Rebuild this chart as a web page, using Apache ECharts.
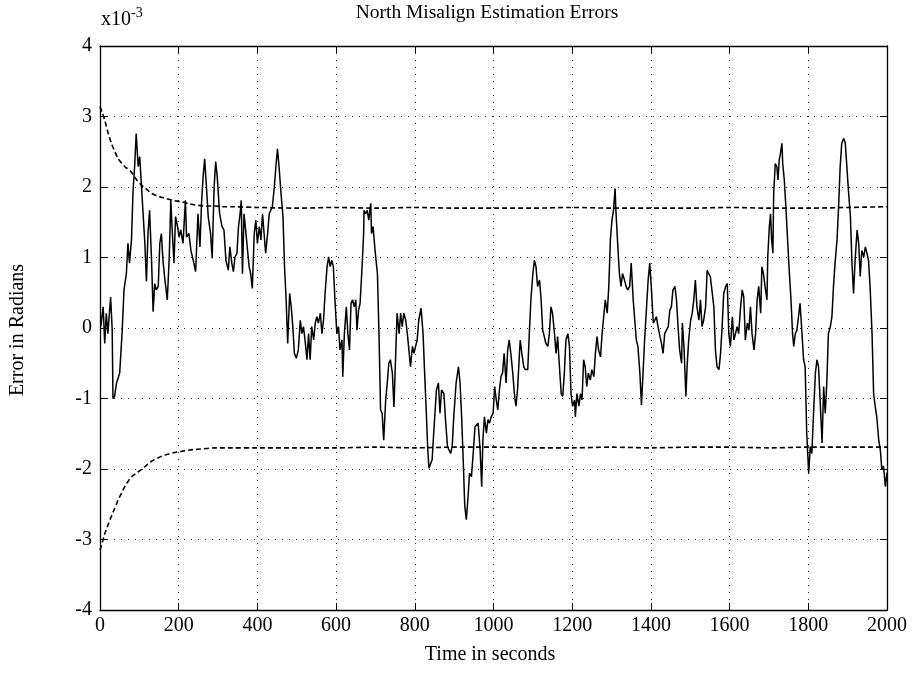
<!DOCTYPE html>
<html>
<head>
<meta charset="utf-8">
<script src="https://cdn.jsdelivr.net/npm/echarts@6/dist/echarts.min.js"></script>
<style>html,body{margin:0;padding:0;background:#fff}#c{width:912px;height:689px}</style>
</head>
<body>
<div id="c"></div>
<script>
// values in units of 1e-3 rad
var xTicks = [0, 200, 400, 600, 800, 1000, 1200, 1400, 1600, 1800, 2000];
var yTicks = [-4, -3, -2, -1, 0, 1, 2, 3, 4];

var errTime = [
2,8,12,16,20,27,31,33,37,42,50,56,61,67,71,75,80,84,88,92,97,101,105,109,114,118,122,126,131,135,139,143,148,152,156,160,165,171,176,180,183,188,192,197,201,205,211,217,220,226,231,237,243,249,254,258,262,266,270,275,281,285,290,294,298,304,310,315,320,326,330,
335,339,343,348,352,356,359,362,366,371,375,379,383,387,392,396,400,405,409,413,417,421,426,430,434,438,443,447,451,455,460,465,469,473,477,482,486,490,494,499,504,509,513,517,521,526,530,534,538,543,547,551,555,560,564,568,572,577,581,585,589,593,598,602,606,610,615,617,621,626,630,634,638,642,646,650,653,657,661,666,670,
671,675,679,683,688,690,694,699,705,709,713,717,721,726,730,734,738,743,747,751,755,760,764,768,772,777,781,785,789,794,798,802,806,810,816,821,825,829,833,836,840,844,849,855,860,864,868,874,878,883,887,891,895,899,905,911,915,919,923,927,931,936,939,944,949,953,957,961,966,970,973,977,982,986,990,994,999,1003,1007,
1011,1015,1019,1023,1027,1032,1036,1040,1044,1049,1053,1057,1061,1066,1068,1072,1077,1081,1087,1091,1095,1100,1104,1108,1112,1117,1121,1125,1129,1133,1138,1142,1146,1150,1155,1159,1163,1167,1172,1176,1180,1184,1189,1193,1197,1201,1206,1208,1212,1217,1221,1225,1229,1233,1237,1241,1246,1250,1255,1259,1263,1267,1272,1276,1280,1284,1289,1293,1297,1301,1305,1309,1311,1316,1320,1324,1328,1333,1337,1341,
1346,1350,1355,1359,1363,1367,1372,1376,1380,1384,1389,1393,1397,1401,1406,1410,1414,1418,1423,1427,1431,1435,1439,1444,1448,1452,1456,1461,1465,1469,1473,1478,1480,1484,1489,1492,1496,1501,1505,1509,1513,1517,1522,1526,1530,1534,1539,1543,1547,1551,1556,1560,1564,1568,1573,1577,1581,1585,1590,1594,1598,1602,1607,1611,1615,1619,1623,1628,1632,1636,1640,1645,1649,1653,1657,1662,1666,1670,1674,1679,
1682,1686,1690,1695,1697,1701,1704,1707,1710,1712,1716,1720,1723,1726,1729,1733,1735,1739,1743,1747,1751,1756,1760,1763,1767,1771,1775,1779,1784,1788,1792,1796,1801,1805,1809,1813,1818,1822,1826,1830,1835,1839,1843,1847,1851,1856,1860,1864,1868,1873,1877,1881,1885,1890,1894,1898,1902,1907,1911,1915,1919,1924,1928,1932,1936,1941,1945,1949,1953,1957,1962,1966,1970,1974,1979,1983,1987,1991,1996,2000
];
var errValue = [
0.02,0.30,-0.22,0.21,-0.08,0.44,-0.03,-1.00,-0.97,-0.78,-0.64,-0.08,0.54,0.77,1.20,0.92,1.25,1.95,2.29,2.76,2.29,2.43,2.05,1.67,1.20,0.66,1.34,1.67,0.96,0.23,0.63,0.54,0.59,1.20,1.34,0.96,0.68,0.40,1.01,1.81,1.44,0.92,1.58,1.44,1.29,1.39,1.20,1.81,1.29,1.34,1.10,0.96,0.80,1.62,1.15,1.77,2.14,2.40,2.05,1.58,1.34,0.99,2.00,2.36,2.14,1.62,1.44,1.39,0.96,0.82,1.15,
0.92,0.80,1.01,1.06,1.44,1.62,1.81,0.77,1.62,1.34,1.10,0.87,0.77,0.56,1.34,1.53,1.20,1.44,1.25,1.62,1.34,1.06,1.34,1.62,1.67,1.72,2.00,2.29,2.54,2.29,1.91,1.58,0.87,0.40,-0.22,0.49,0.30,0.02,-0.36,-0.43,-0.31,0.11,-0.08,0.02,-0.17,-0.45,-0.08,-0.45,0.02,-0.17,0.07,0.16,0.07,0.21,-0.08,0.11,0.49,0.87,1.01,0.87,0.96,0.87,0.30,-0.08,0.02,-0.31,-0.17,-0.69,-0.08,0.30,-0.08,-0.31,0.35,0.40,0.30,0.40,-0.03,0.25,0.35,0.87,1.34,
1.67,1.62,1.67,1.53,1.77,1.34,1.44,1.10,0.77,-0.08,-1.16,-1.21,-1.59,-1.02,-0.78,-0.50,-0.45,-0.64,-1.12,-0.45,0.21,-0.08,0.21,0.02,0.21,0.11,-0.08,-0.31,-0.55,-0.26,-0.36,-0.26,-0.17,0.11,0.28,-0.08,-0.64,-1.16,-1.73,-1.99,-1.99,-1.87,-1.40,-0.88,-0.78,-1.21,-0.88,-0.93,-1.30,-1.68,-1.68,-1.78,-1.68,-1.26,-0.78,-0.55,-0.78,-1.26,-1.87,-2.53,-2.72,-2.34,-2.06,-2.11,-1.73,-1.40,-1.40,-1.35,-1.73,-2.25,-1.59,-1.26,-1.49,-1.30,-1.35,-1.26,-1.21,-0.83,-1.02,
-1.16,-0.88,-0.69,-0.64,-0.36,-0.78,-0.31,-0.17,-0.36,-0.64,-0.93,-1.11,-0.88,-0.36,-0.17,-0.36,-0.55,-0.59,-0.59,-0.08,0.40,0.77,0.96,0.87,0.59,0.68,0.40,-0.03,-0.12,-0.22,-0.26,-0.08,0.30,0.21,-0.08,-0.36,-0.12,-0.50,-0.93,-0.97,-0.64,-0.17,-0.08,-0.26,-0.93,-1.11,-1.02,-1.26,-0.93,-1.11,-0.93,-1.02,-0.45,-0.55,-0.83,-0.64,-0.74,-0.59,-0.69,-0.36,-0.12,-0.31,-0.41,-0.08,0.16,0.40,0.21,0.59,1.25,1.53,1.67,1.98,1.67,1.15,0.77,0.59,0.77,0.68,0.59,0.54,
0.59,0.92,0.40,0.11,-0.17,-0.26,-0.64,-1.09,-0.64,-0.17,0.30,0.68,0.92,0.59,0.07,0.11,0.16,0.02,-0.12,-0.22,-0.36,-0.08,-0.08,0.02,0.25,0.30,0.54,0.59,0.40,0.02,-0.31,-0.50,0.07,-0.26,-0.97,-0.55,-0.17,0.11,0.21,0.40,0.68,0.30,0.11,0.40,0.02,0.11,0.30,0.82,0.77,0.73,0.73,0.30,-0.31,-0.55,-0.59,-0.36,0.02,0.49,0.59,0.63,-0.08,-0.26,0.16,-0.17,-0.08,0.02,-0.08,0.30,0.54,0.44,-0.17,0.07,-0.03,0.30,-0.08,-0.31,-0.08,0.40,0.59,0.21,
0.87,0.77,0.59,0.40,1.01,1.44,1.62,1.25,1.06,1.91,2.33,2.29,2.10,2.38,2.47,2.62,2.33,2.10,1.72,1.29,0.87,0.40,-0.08,-0.26,-0.08,-0.03,0.16,0.35,-0.08,-0.45,-0.55,-1.49,-2.06,-1.68,-1.78,-1.26,-0.64,-0.45,-0.55,-1.02,-1.63,-0.83,-1.21,-0.78,-0.08,0.02,0.16,0.59,0.92,1.25,1.72,2.29,2.62,2.69,2.62,2.29,1.95,1.58,0.92,0.49,0.96,1.39,1.20,0.73,1.10,1.01,1.15,1.06,0.96,0.59,-0.08,-0.93,-1.11,-1.26,-1.59,-1.73,-2.01,-1.96,-2.25,-2.05
];

var boundTime = [0, 6, 12, 20, 29, 38, 46, 55, 63, 72, 80, 92, 105, 118, 131, 148, 165, 186, 207, 228, 249, 270, 292, 313, 334, 400, 500, 600, 700, 800, 900, 1000, 1100, 1200, 1300, 1400, 1500, 1600, 1700, 1800, 1900, 2000];
var upperBound = [3.14, 3.05, 2.95, 2.78, 2.62, 2.50, 2.40, 2.34, 2.29, 2.25, 2.21, 2.11, 2.03, 1.97, 1.91, 1.87, 1.84, 1.81, 1.79, 1.76, 1.74, 1.73, 1.73, 1.72, 1.72, 1.71, 1.70, 1.71, 1.70, 1.71, 1.70, 1.70, 1.70, 1.71, 1.70, 1.70, 1.70, 1.71, 1.70, 1.70, 1.71, 1.72];
var lowerBound = [-3.15, -3.04, -2.92, -2.80, -2.67, -2.55, -2.44, -2.34, -2.25, -2.17, -2.11, -2.06, -2.01, -1.95, -1.89, -1.84, -1.80, -1.77, -1.75, -1.73, -1.72, -1.71, -1.70, -1.70, -1.70, -1.70, -1.70, -1.70, -1.69, -1.70, -1.69, -1.69, -1.70, -1.70, -1.69, -1.70, -1.69, -1.69, -1.70, -1.69, -1.69, -1.69];

function pairs(xs, ys) { return xs.map(function (x, i) { return [x, ys[i]]; }); }

var FONT = "'Liberation Serif', 'DejaVu Serif', serif";
var chart = echarts.init(document.getElementById('c'), null, { renderer: 'canvas' });

var dotted = { show: true, lineStyle: { color: '#222', width: 1, type: [1, 6] } };
var tick = { show: true, inside: true, length: 7, lineStyle: { color: '#000', width: 1 } };
var line = { show: true, onZero: false, lineStyle: { color: '#000', width: 1.3 } };

chart.setOption({
  animation: false,
  backgroundColor: '#fff',
  grid: { left: 100, right: 25, top: 46, bottom: 79, containLabel: false },
  xAxis: [
    { type: 'value', position: 'bottom', min: 0, max: 2000, interval: 200,
      axisLine: line, axisTick: tick, splitLine: dotted,
      axisLabel: { color: '#000', fontFamily: FONT, fontSize: 20, margin: 6,
        formatter: function (v) { return xTicks.indexOf(v) >= 0 ? String(v) : ''; } } },
    { type: 'value', position: 'top', min: 0, max: 2000, interval: 200,
      axisLine: line, axisTick: tick, splitLine: { show: false }, axisLabel: { show: false } }
  ],
  yAxis: [
    { type: 'value', position: 'left', min: -4, max: 4, interval: 1,
      axisLine: line, axisTick: tick, splitLine: dotted,
      axisLabel: { color: '#000', fontFamily: FONT, fontSize: 20, margin: 8,
        formatter: function (v) { return yTicks.indexOf(v) >= 0 ? String(v) : ''; } } },
    { type: 'value', position: 'right', min: -4, max: 4, interval: 1,
      axisLine: line, axisTick: tick, splitLine: { show: false }, axisLabel: { show: false } }
  ],
  graphic: [
    { type: 'text', x: 487, y: 13, style: { text: 'North Misalign Estimation Errors', fill: '#000',
        font: '19.5px ' + FONT, textAlign: 'center', textVerticalAlign: 'middle' } },
    { type: 'text', x: 490, y: 655, style: { text: 'Time in seconds', fill: '#000',
        font: '20px ' + FONT, textAlign: 'center', textVerticalAlign: 'middle' } },
    { type: 'text', x: 18, y: 330, rotation: Math.PI / 2, style: { text: 'Error in Radians', fill: '#000',
        font: '20px ' + FONT, textAlign: 'center', textVerticalAlign: 'middle' } },
    { type: 'text', x: 101, y: 6, style: { text: '{a|x10}{b|-3}', fill: '#000',
        rich: { a: { fontFamily: FONT, fontSize: 20, fill: '#000', verticalAlign: 'bottom', lineHeight: 24 },
                b: { fontFamily: FONT, fontSize: 14, fill: '#000', verticalAlign: 'top', lineHeight: 24, padding: [0, 0, 8, 0] } } } }
  ],
  series: [
    { type: 'line', xAxisIndex: 0, yAxisIndex: 0, data: pairs(errTime, errValue), showSymbol: false,
      lineStyle: { color: '#000', width: 1.5 }, z: 3 },
    { type: 'line', xAxisIndex: 0, yAxisIndex: 0, data: pairs(boundTime, upperBound), showSymbol: false, smooth: 0.3,
      lineStyle: { color: '#000', width: 1.6, type: [5, 3] }, z: 2 },
    { type: 'line', xAxisIndex: 0, yAxisIndex: 0, data: pairs(boundTime, lowerBound), showSymbol: false, smooth: 0.3,
      lineStyle: { color: '#000', width: 1.6, type: [5, 3] }, z: 2 }
  ]
});
</script>
</body>
</html>
